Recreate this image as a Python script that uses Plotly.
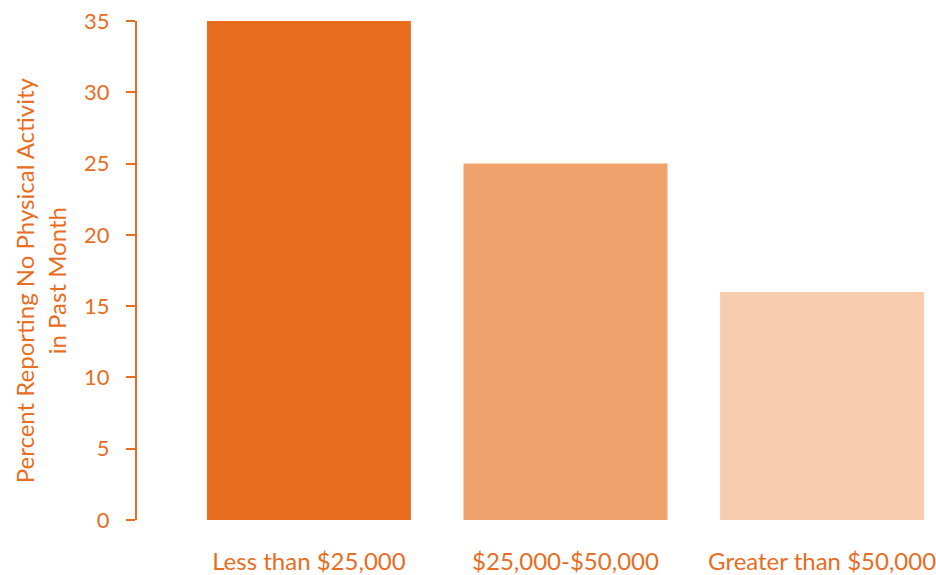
import plotly.graph_objects as go

# Income groups and share reporting no leisure-time physical activity
categories = ["Less than $25,000", "$25,000-$50,000", "Greater than $50,000"]
percent_inactive = [35, 25, 16]
bar_colors = ["#E86D1F", "#F0A26C", "#F8CDAF"]
y_ticks = [0, 5, 10, 15, 20, 25, 30, 35]

ORANGE = "#E86D1F"
FONT = "Lato"

fig = go.Figure(
    go.Bar(
        x=[0, 1, 2],
        y=percent_inactive,
        marker=dict(color=bar_colors, line=dict(width=0)),
        width=0.795,
        hoverinfo="skip",
    )
)

fig.update_layout(
    width=936,
    height=575,
    margin=dict(l=137, r=0, t=21, b=55),
    paper_bgcolor="white",
    plot_bgcolor="white",
    showlegend=False,
    font=dict(family=FONT, color=ORANGE, size=22),
)

fig.update_xaxes(
    range=[-0.67, 2.444],
    tickmode="array",
    tickvals=[0, 1, 2],
    ticktext=categories,
    ticks="",
    showline=False,
    showgrid=False,
    zeroline=False,
    automargin=False,
    ticklabeloverflow="allow",
    ticklabelstandoff=25,
    tickfont=dict(family=FONT, color=ORANGE, size=24),
)

fig.update_yaxes(
    range=[0, 35],
    tickmode="array",
    tickvals=y_ticks,
    ticks="outside",
    ticklen=9,
    tickwidth=2,
    tickcolor=ORANGE,
    showline=True,
    linecolor=ORANGE,
    linewidth=2,
    showgrid=False,
    zeroline=False,
    automargin=False,
    ticklabelstandoff=12,
    tickfont=dict(family=FONT, color=ORANGE, size=22),
)

fig.add_annotation(
    text="Percent Reporting No Physical Activity<br>in Past Month",
    xref="paper",
    yref="paper",
    x=-0.121,
    y=0.481,
    xanchor="center",
    yanchor="middle",
    textangle=-90,
    showarrow=False,
    font=dict(family=FONT, color=ORANGE, size=24),
)

fig.write_html("out.html")
